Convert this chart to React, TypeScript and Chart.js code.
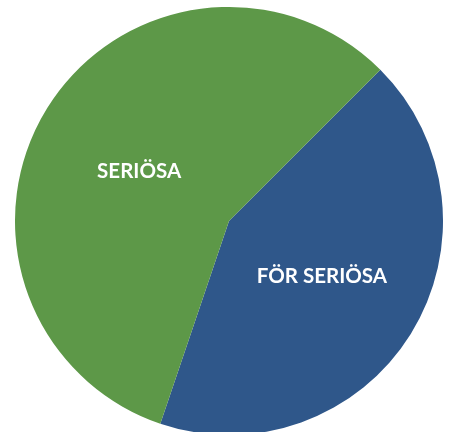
import React, { useEffect, useRef } from "react";
import { Chart, registerables } from "chart.js";

Chart.register(...registerables);

const categories = ["FÖR SERIÖSA", "SERIÖSA"];
const shares = [42.7, 57.3];
const colors = ["#2f578a", "#5d9848"];

const labelPlugin = {
  id: "sliceLabels",
  afterDatasetsDraw(chart: any) {
    const ctx = chart.ctx;
    const meta = chart.getDatasetMeta(0);
    const nudges = [
      [2, -1],
      [1, 7],
    ];
    ctx.save();
    ctx.fillStyle = "#ffffff";
    ctx.font = "bold 20.5px Lato, 'Open Sans', sans-serif";
    ctx.textAlign = "center";
    ctx.textBaseline = "middle";
    meta.data.forEach((arc: any, i: number) => {
      const p = arc.tooltipPosition();
      ctx.fillText(chart.data.labels[i], p.x + nudges[i][0], p.y + nudges[i][1]);
    });
    ctx.restore();
  },
};

export default function App() {
  const ref = useRef<HTMLCanvasElement>(null);
  useEffect(() => {
    if (!ref.current) return;
    const chart = new Chart(ref.current, {
      type: "pie",
      data: {
        labels: categories,
        datasets: [
          {
            data: shares,
            backgroundColor: colors,
            borderWidth: 0,
          },
        ],
      },
      options: {
        responsive: false,
        animation: false,
        rotation: 45,
        layout: { padding: 0 },
        plugins: {
          legend: { display: false },
          tooltip: { enabled: false },
        },
      },
      plugins: [labelPlugin],
    });
    return () => chart.destroy();
  }, []);
  return (
    <div
      style={{
        position: "fixed",
        left: 0,
        top: 0,
        width: 451,
        height: 432,
        overflow: "hidden",
        background: "#ffffff",
      }}
    >
      <canvas
        ref={ref}
        width={428}
        height={428}
        style={{ position: "absolute", left: 15, top: 7, width: 428, height: 428 }}
      />
    </div>
  );
}
